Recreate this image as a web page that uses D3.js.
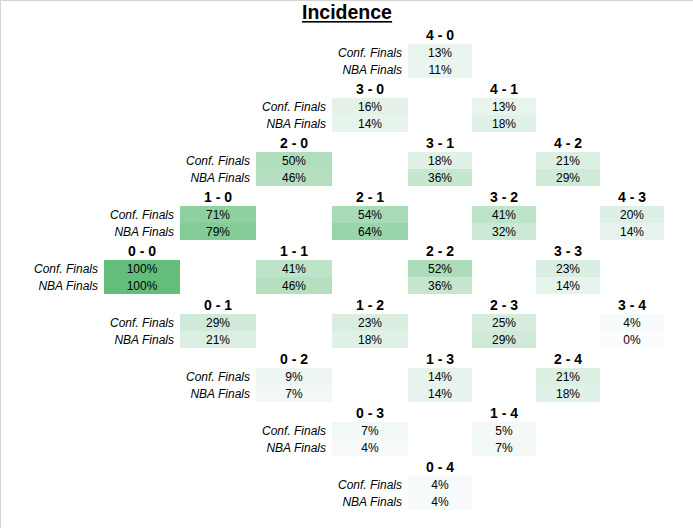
<!DOCTYPE html>
<html>
<head>
<meta charset="utf-8">
<script src="https://cdn.jsdelivr.net/npm/d3@7"></script>
<style>
  body { margin: 0; background: #fff; }
  svg { display: block; }
</style>
</head>
<body>
<div id="chart"></div>
<script>
// series states, read top to bottom, left to right
var scores = ["4 - 0", "3 - 0", "4 - 1", "2 - 0", "3 - 1", "4 - 2",
              "1 - 0", "2 - 1", "3 - 2", "4 - 3", "0 - 0", "1 - 1", "2 - 2", "3 - 3",
              "0 - 1", "1 - 2", "2 - 3", "3 - 4", "0 - 2", "1 - 3", "2 - 4",
              "0 - 3", "1 - 4", "0 - 4"];
var seriesNames = ["Conf. Finals", "NBA Finals"];
var confFinals = [13, 16, 13, 50, 18, 21, 71, 54, 41, 20, 100, 41, 52, 23,
                  29, 23, 25, 4, 9, 14, 21, 7, 5, 4];
var nbaFinals  = [11, 14, 18, 46, 36, 29, 79, 64, 32, 14, 100, 46, 36, 14,
                  21, 18, 29, 0, 7, 14, 18, 4, 7, 4];
var title = "Incidence";

var W = 693, H = 528;
var colWidths = [76, 76, 76, 76, 76, 64, 64, 64, 64]; // sheet columns
var headerH = 20, rowH = 17, blockH = headerH + 2 * rowH;

// column left edges
var colEdges = [28];
colWidths.forEach(function(w, i) { colEdges.push(colEdges[i] + w); });

// diamond position c = a+b -> value column c+1 (label column c)
var xCol = d3.scaleOrdinal().domain(d3.range(colEdges.length)).range(colEdges);
var yBlock = d3.scaleLinear().domain([0, 8]).range([24, 24 + 8 * blockH]);
var color = d3.scaleLinear().domain([0, 100])
  .range(["#FCFCFF", "#63BE7B"]).interpolate(d3.interpolateRgb);

var cells = scores.map(function(s, i) {
  var p = s.split(" - ").map(Number);
  return { label: s, a: p[0], b: p[1], vals: [confFinals[i], nbaFinals[i]] };
});

var svg = d3.select("#chart").append("svg")
  .attr("width", W).attr("height", H)
  .style("font-family", "Arial, 'Liberation Sans', sans-serif");

// sheet edges
svg.append("line").attr("x1", 0).attr("x2", W).attr("y1", 0.5).attr("y2", 0.5)
  .attr("stroke", "#d4d4d4");
svg.append("line").attr("x1", 0.5).attr("x2", 0.5).attr("y1", 0).attr("y2", H)
  .attr("stroke", "#d4d4d4");

var t = svg.append("text")
  .attr("x", 347).attr("y", 19)
  .attr("text-anchor", "middle")
  .attr("font-weight", "bold")
  .attr("font-size", "19.5px")
  .text(title);
var tb = t.node().getBBox();
svg.append("rect").attr("x", tb.x).attr("y", 21).attr("width", tb.width).attr("height", 1.6)
  .attr("fill", "#000");

var g = svg.selectAll("g.cell")
  .data(cells)
  .enter()
  .append("g")
  .attr("class", "cell")
  .attr("transform", function(d) {
    return "translate(0," + yBlock(4 - d.a + d.b) + ")";
  });

// header
g.append("text")
  .attr("x", function(d) {
    var c = d.a + d.b + 1;
    return (xCol(c) + xCol(c + 1)) / 2;
  })
  .attr("y", 16)
  .attr("text-anchor", "middle")
  .attr("font-weight", "bold")
  .attr("font-size", "14px")
  .text(function(d) { return d.label; });

g.each(function(d) {
  var c = d.a + d.b + 1;
  var x0 = xCol(c), x1 = xCol(c + 1);
  var sel = d3.select(this);
  d.vals.forEach(function(v, k) {
    var y = headerH + k * rowH;
    sel.append("rect")
      .attr("x", x0).attr("y", y)
      .attr("width", x1 - x0).attr("height", rowH)
      .attr("fill", color(v));
    sel.append("text")
      .attr("x", (x0 + x1) / 2).attr("y", y + 13)
      .attr("text-anchor", "middle")
      .attr("font-size", "12px")
      .attr("fill", "#000")
      .text(v + "%");
    // row labels only along the left edge of the diamond
    if (d.a == 0 || d.b == 0) {
      sel.append("text")
        .attr("x", x0 - 6).attr("y", y + 13)
        .attr("text-anchor", "end")
        .attr("font-style", "italic")
        .attr("font-size", "12px")
        .text(seriesNames[k]);
    }
  });
});
</script>
</body>
</html>
